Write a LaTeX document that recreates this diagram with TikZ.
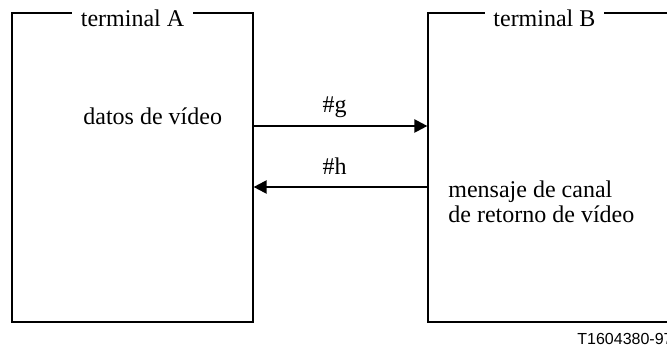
\documentclass[tikz,border=0pt]{standalone}
\usepackage{fontspec}
\setmainfont{Liberation Serif}
\newfontfamily\tagfont{Liberation Sans}
\usetikzlibrary{positioning,arrows.meta,calc}
\tikzset{
  termbox/.style={draw,line width=0.6pt,inner sep=0pt},
  termlbl/.style={fill=white,inner xsep=4.4pt,anchor=base,font=\fontsize{12}{14}\selectfont},
  sig/.style={-{Triangle[length=6.5pt,width=6.5pt]},line width=1.1pt},
  siglbl/.style={anchor=base,yshift=6.5pt,xshift=-3pt,font=\fontsize{12}{14}\selectfont},
  txt/.style={anchor=base west,inner sep=0pt,font=\fontsize{12}{14}\selectfont},
}

\begin{document}
\begin{tikzpicture}[x=0.5pt,y=-0.5pt]
  \useasboundingbox (0,0) rectangle (667,347);
  % the two terminals (B runs off the right edge)
  \node[termbox,minimum width=120.5pt,minimum height=154.5pt] (termA) at (132.5,167.5) {};
  \node[termbox,minimum width=136pt,minimum height=154.5pt] (termB) at (564,167.5) {};
  \node[termlbl] (labA) at ([yshift=-7pt]termA.north) {terminal A};
  \node[termlbl] (labB) at ([xshift=58.5pt,yshift=-7pt]termB.north west) {terminal B};
  % contents
  \node[txt] (datA) at (83,125) {datos de vídeo};
  \node[txt] (msgB1) at (448,197) {mensaje de canal};
  \node[txt] (msgB2) at (448,222) {de retorno de vídeo};
  % signals
  \coordinate (g) at (0,126);
  \coordinate (h) at (0,187);
  \draw[sig] (termA.east |- g) -- (termB.west |- g) node[siglbl,midway] (lg) {\#g};
  \draw[sig] (termB.west |- h) -- (termA.east |- h) node[siglbl,midway] (lh) {\#h};
  \node[anchor=base west,inner sep=0pt,font=\tagfont\fontsize{8}{9}\selectfont] (tag) at (577,344) {T1604380-97};
\end{tikzpicture}
\end{document}
